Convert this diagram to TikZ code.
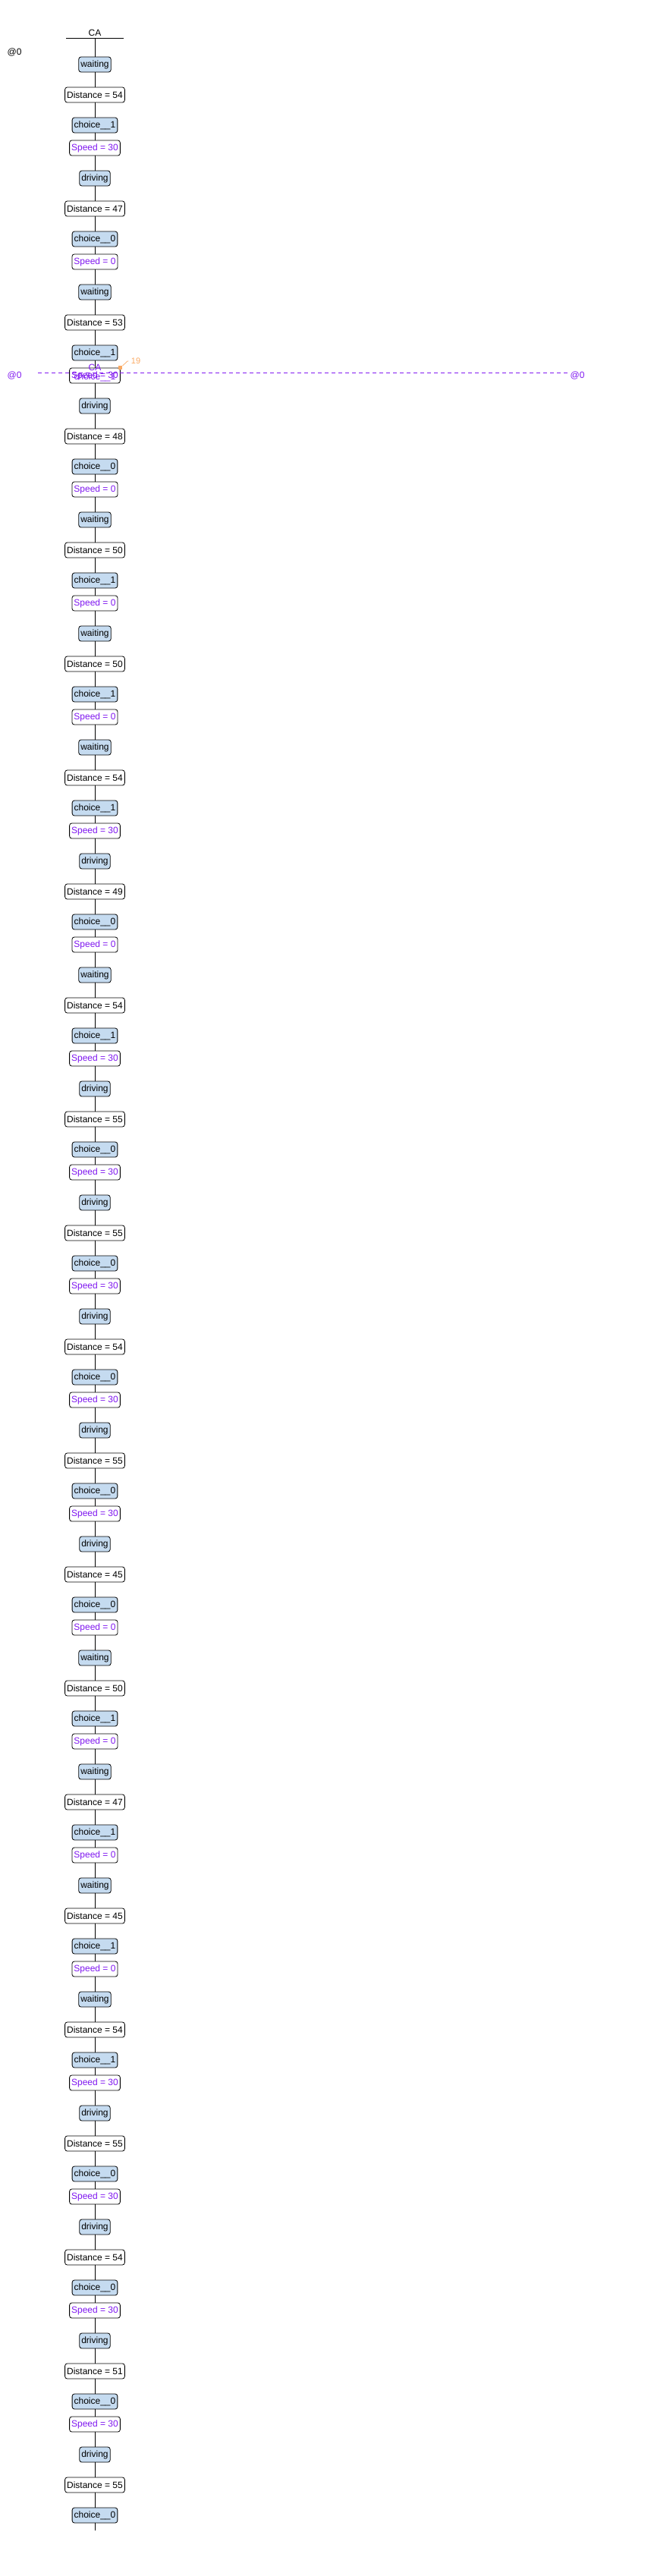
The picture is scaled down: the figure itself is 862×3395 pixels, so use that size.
\documentclass[tikz,border=0pt]{standalone}
\usepackage{fontspec}
\setmainfont{Liberation Sans}
\usetikzlibrary{positioning}
\definecolor{locblue}{RGB}{197,219,240}
\definecolor{syncpurple}{RGB}{128,24,240}
\definecolor{markorange}{RGB}{250,170,100}

\begin{document}
\begin{tikzpicture}[
        x=1pt, y=-1pt,
        font=\fontsize{12}{14}\selectfont,
        box/.style={rectangle, rounded corners=3pt, draw, line width=0.8pt, fill=#1, inner xsep=2.5pt, inner ysep=0pt, minimum height=20pt},
        loc/.style={box=locblue},
        upd/.style={box=white},
        chan/.style={box=white, text=syncpurple},
        life/.style={line width=1pt}
    ]
        \useasboundingbox (0,0) rectangle (862,3395);

        % header of the CA lifeline
        \node (hdr) at (125,43) {CA};
        \node (t0) at (19,69) {@0};
        \coordinate (barl) at (87,50);
        \coordinate (barr) at (163,50);
        \coordinate (top) at (125,50);
        \coordinate (bot) at (125,3335);
        \draw[life] (barl) -- (barr);

        % trace steps: location, distance, choice, speed
        \foreach \st/\dist/\ch/\sp [count=\k from 0] in {
            waiting/54/1/30, driving/47/0/0, waiting/53/1/30, driving/48/0/0,
            waiting/50/1/0, waiting/50/1/0, waiting/54/1/30, driving/49/0/0,
            waiting/54/1/30, driving/55/0/30, driving/55/0/30, driving/54/0/30,
            driving/55/0/30, driving/45/0/0, waiting/50/1/0, waiting/47/1/0,
            waiting/45/1/0, waiting/54/1/30, driving/55/0/30, driving/54/0/30,
            driving/51/0/30} {
            \pgfmathsetmacro\ys{85+150*\k}
            \node[loc] (s\k) at (125,\ys) {\st};
            \node[upd] (d\k) at (125,\ys+40) {Distance = \dist};
            \node[loc] (c\k) at (125,\ys+80) {choice\_\_\ch};
            \node[chan] (p\k) at (125,\ys+110) {Speed = \sp};
        }
        \node[loc] (s21) at (125,3235) {driving};
        \node[upd] (d21) at (125,3275) {Distance = 55};
        \node[loc] (c21) at (125,3315) {choice\_\_0};

        \draw[life] (top) -- (s0);
        \foreach \k in {0,...,20} {
            \pgfmathtruncatemacro\nx{\k+1}
            \draw[life] (s\k) -- (d\k) (d\k) -- (c\k) (c\k) -- (p\k) (p\k) -- (s\nx);
        }
        \draw[life] (s21) -- (d21) -- (c21) -- (bot);

        % selected step
        \node[text=syncpurple] (cahl) at (125,484) {CA};
        \node[text=syncpurple] (chhl) at (125,497) {choice\_\_1};
        \node[text=syncpurple] (tl) at (19,495) {@0};
        \node[text=syncpurple] (tr) at (761,495) {@0};
        \coordinate (cutl) at (50,491);
        \coordinate (cutr) at (749,491);
        \draw[syncpurple, line width=0.8pt, dash pattern=on 5pt off 4pt] (cutl) -- (cutr);

        \node[fill=markorange, inner sep=0pt, minimum size=5pt] (mk) at (p2.north east) {};
        \node[text=markorange, font=\fontsize{11}{13}\selectfont] (mklab) at (179,476) {19};
        \draw[markorange, line width=0.7pt] (mk) -- (168,476) -- (mklab.west);
    \end{tikzpicture}
\end{document}
